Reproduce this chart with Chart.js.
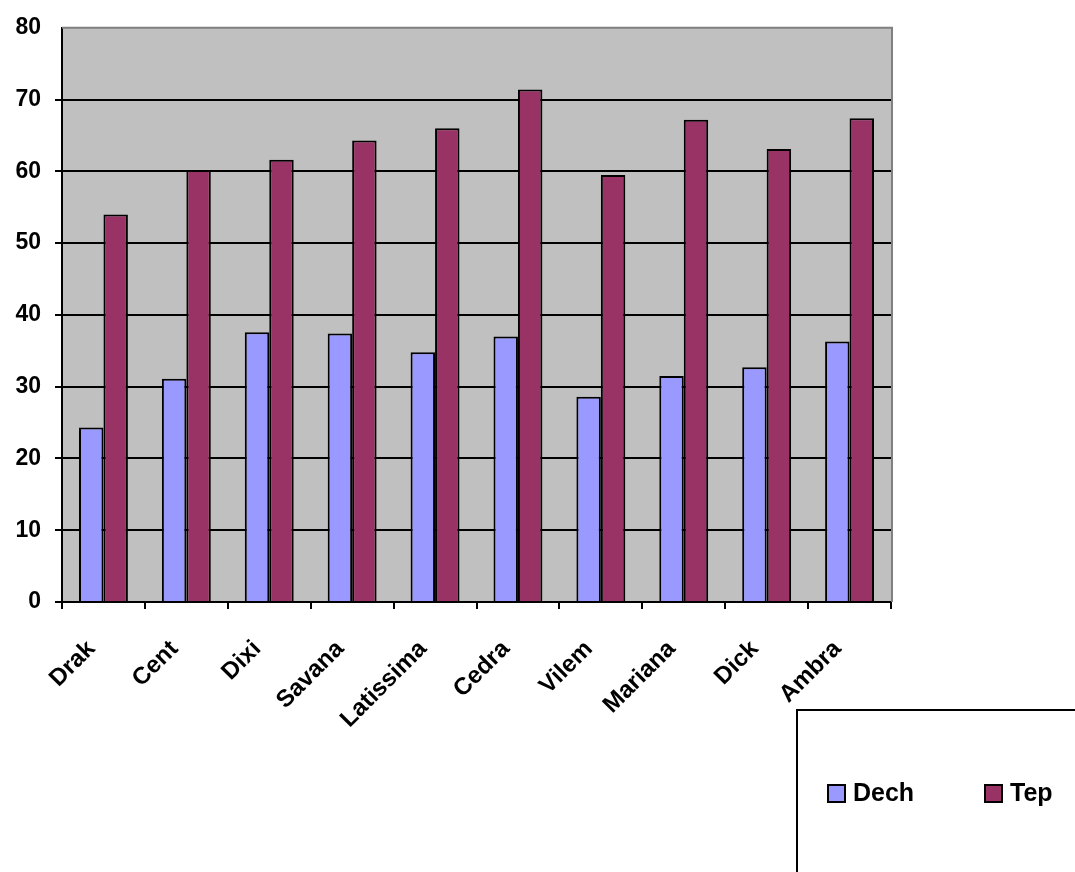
<!DOCTYPE html>
<html>
<head>
<meta charset="utf-8">
<script src="https://cdn.jsdelivr.net/npm/chart.js@4/dist/chart.umd.min.js"></script>
<style>
  html, body { margin: 0; padding: 0; background: #fff; }
  #wrap { width: 1075px; height: 872px; position: relative; }
</style>
</head>
<body>
<div id="wrap"><canvas id="c" width="1075" height="872"></canvas></div>
<script>
const categories = ['Drak', 'Cent', 'Dixi', 'Savana', 'Latissima', 'Cedra', 'Vilem', 'Mariana', 'Dick', 'Ambra'];
const dech = [24.3, 31.1, 37.6, 37.4, 34.8, 37.0, 28.6, 31.5, 32.7, 36.3];
const tep = [54.0, 60.2, 61.6, 64.3, 66.0, 71.4, 59.5, 67.2, 63.1, 67.4];
const yTicks = [0, 10, 20, 30, 40, 50, 60, 70, 80];

const FONT = 'Liberation Sans, Arial, sans-serif';

// grey plot background with a darker grey frame on top and right
const plotBg = {
  id: 'plotBg',
  beforeDraw(chart) {
    const { ctx, chartArea: a } = chart;
    ctx.save();
    ctx.fillStyle = '#C0C0C0';
    ctx.fillRect(a.left, a.top, a.right - a.left, a.bottom - a.top);
    ctx.restore();
  },
  afterDatasetsDraw(chart) {
    const { ctx, chartArea: a } = chart;
    ctx.save();
    ctx.strokeStyle = '#808080';
    ctx.lineWidth = 2;
    ctx.beginPath();
    ctx.moveTo(a.left, a.top);
    ctx.lineTo(a.right + 1, a.top);
    ctx.lineTo(a.right + 1, a.bottom);
    ctx.stroke();
    ctx.restore();
  }
};

// boxed legend in the lower-right corner
const boxLegend = {
  id: 'boxLegend',
  afterDraw(chart) {
    const { ctx } = chart;
    ctx.save();
    ctx.strokeStyle = '#000';
    ctx.lineWidth = 2;
    ctx.strokeRect(797, 710, 400, 300);
    ctx.font = 'bold 25px ' + FONT;
    ctx.textBaseline = 'middle';
    const xs = [828, 985];
    chart.data.datasets.forEach((ds, i) => {
      const x = xs[i], y = 793;
      ctx.fillStyle = ds.backgroundColor;
      ctx.fillRect(x, y - 8, 17, 17);
      ctx.lineWidth = 2;
      ctx.strokeStyle = '#000';
      ctx.strokeRect(x, y - 8, 17, 17);
      ctx.fillStyle = '#000';
      ctx.fillText(ds.label, x + 25, y + 1);
    });
    ctx.restore();
  }
};

new Chart(document.getElementById('c'), {
  type: 'bar',
  data: {
    labels: categories,
    datasets: [
      { label: 'Dech', data: dech, backgroundColor: '#9999FF', borderColor: '#000', borderWidth: 2 },
      { label: 'Tep', data: tep, backgroundColor: '#993366', borderColor: '#000', borderWidth: 2 }
    ]
  },
  options: {
    responsive: false,
    animation: false,
    devicePixelRatio: 1,
    layout: { padding: { top: 27, right: 184, left: 0, bottom: 0 } },
    datasets: { bar: { categoryPercentage: 0.59, barPercentage: 1.0 } },
    plugins: { legend: { display: false }, tooltip: { enabled: false } },
    scales: {
      x: {
        offset: true,
        grid: { display: true, drawOnChartArea: false, offset: true, color: '#000', lineWidth: 2, tickLength: 7, drawTicks: true },
        border: { display: true, color: '#000', width: 2 },
        ticks: {
          color: '#000', font: { family: FONT, size: 24, weight: 'bold' },
          maxRotation: 45, minRotation: 45, padding: 26, labelOffset: -12, autoSkip: false
        },
        afterFit(s) { s.height = 270; }
      },
      y: {
        min: 0, max: 80,
        afterBuildTicks(s) { s.ticks = yTicks.map(v => ({ value: v })); },
        grid: { color: (c) => (c.tick && c.tick.value === 80 ? 'rgba(0,0,0,0)' : '#000'), lineWidth: 2, tickLength: 7, drawTicks: true },
        border: { display: true, color: '#000', width: 2 },
        ticks: { color: '#000', font: { family: FONT, size: 23, weight: 'bold' }, padding: 14 },
        afterFit(s) { s.width = 62; }
      }
    }
  },
  plugins: [plotBg, boxLegend]
});
</script>
</body>
</html>
